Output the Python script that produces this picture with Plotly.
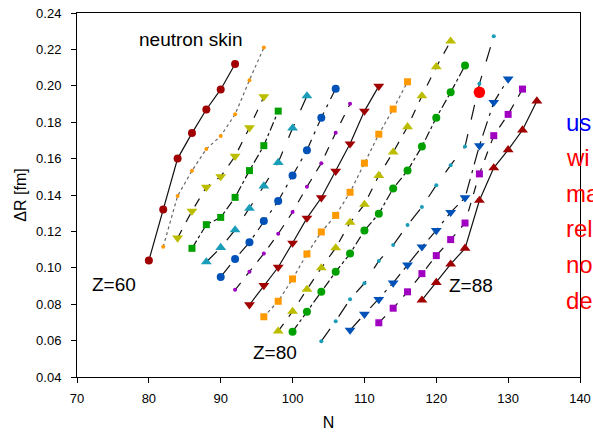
import plotly.graph_objects as go

# ---------------- data ----------------
Z60_N = [80, 82, 84, 86, 88, 90, 92]
Z60_dR = [0.104, 0.132, 0.160, 0.174, 0.187, 0.198, 0.212]

Z62_N = [82, 84, 86, 88, 90, 92, 94, 96]
Z62_dR = [0.1116, 0.1395, 0.1533, 0.1653, 0.1724, 0.1843, 0.2031, 0.2210]

Z64_N = [84, 86, 88, 90, 92, 94, 96]
Z64_dR = [0.1164, 0.1312, 0.1443, 0.1501, 0.1613, 0.1770, 0.1940]

Z66_N = [86, 88, 90, 92, 94, 96, 98]
Z66_dR = [0.1107, 0.1237, 0.1277, 0.1387, 0.1534, 0.1671, 0.1861]

Z68_N = [88, 90, 92, 94, 96, 98, 100, 102]
Z68_dR = [0.1032, 0.1111, 0.1208, 0.1326, 0.1449, 0.1578, 0.1767, 0.1944]

Z70_N = [90, 92, 94, 96, 98, 100, 102, 104, 106]
Z70_dR = [0.0950, 0.1049, 0.1140, 0.1257, 0.1367, 0.1507, 0.1646, 0.1825, 0.1984]

Z72_N = [92, 94, 96, 98, 100, 102, 104, 106, 108]
Z72_dR = [0.0879, 0.0978, 0.1078, 0.1187, 0.1306, 0.1445, 0.1575, 0.1742, 0.1901]

Z74_N = [94, 96, 98, 100, 102, 104, 106, 108, 110, 112]
Z74_dR = [0.0797, 0.0903, 0.1003, 0.1136, 0.1273, 0.1385, 0.1531, 0.1681, 0.1861, 0.1998]

Z76_N = [96, 98, 100, 102, 104, 106, 108, 110, 112, 114, 116]
Z76_dR = [0.0731, 0.0816, 0.0939, 0.1076, 0.1197, 0.1288, 0.1415, 0.1575, 0.1734, 0.1872, 0.2022]

Z78_N = [98, 100, 102, 104, 106, 108, 110, 112, 114, 116, 118, 120, 122]
Z78_dR = [0.0652, 0.0760, 0.0881, 0.0999, 0.1109, 0.1249, 0.1348, 0.1507, 0.1635, 0.1775, 0.1944, 0.2104, 0.2245]

Z80_N = [100, 102, 104, 106, 108, 110, 112, 114, 116, 118, 120, 122, 124]
Z80_dR = [0.0649, 0.0758, 0.0868, 0.0978, 0.1078, 0.1205, 0.1297, 0.1436, 0.1534, 0.1666, 0.1825, 0.1964, 0.2112]

Z82_N = [104, 106, 108, 110, 112, 114, 116, 118, 120, 122, 124, 126, 128]
Z82_dR = [0.0597, 0.0707, 0.0827, 0.0915, 0.1038, 0.1125, 0.1235, 0.1334, 0.1454, 0.1564, 0.1666, 0.2011, 0.2272]

Z84_N = [108, 110, 112, 114, 116, 118, 120, 122, 124, 126, 128, 130]
Z84_dR = [0.0658, 0.0745, 0.0826, 0.0917, 0.1016, 0.1115, 0.1205, 0.1305, 0.1385, 0.1671, 0.1909, 0.2038]

Z86_N = [112, 114, 116, 118, 120, 122, 124, 126, 128, 130, 132]
Z86_dR = [0.0698, 0.0778, 0.0868, 0.0968, 0.1067, 0.1155, 0.1246, 0.1516, 0.1726, 0.1843, 0.1982]

Z88_N = [118, 120, 122, 124, 126, 128, 130, 132, 134]
Z88_dR = [0.0822, 0.0919, 0.1020, 0.1107, 0.1370, 0.1549, 0.1648, 0.1757, 0.1916]

HIGHLIGHT_N = [126]
HIGHLIGHT_dR = [0.1964]

chains = [
    (60, Z60_N, Z60_dR), (62, Z62_N, Z62_dR), (64, Z64_N, Z64_dR),
    (66, Z66_N, Z66_dR), (68, Z68_N, Z68_dR), (70, Z70_N, Z70_dR),
    (72, Z72_N, Z72_dR), (74, Z74_N, Z74_dR), (76, Z76_N, Z76_dR),
    (78, Z78_N, Z78_dR), (80, Z80_N, Z80_dR), (82, Z82_N, Z82_dR),
    (84, Z84_N, Z84_dR), (86, Z86_N, Z86_dR), (88, Z88_N, Z88_dR),
]

chain_labels = ["Z=60", "Z=80", "Z=88"]
side_texts = ["us", "wi", "ma", "rel", "no", "de"]

# ---------------- styles ----------------
colors = ["#A00000", "#FF9900", "#BDBD00", "#00A000", "#1A9DB8", "#0052B8", "#A000C0"]
dashes = ["solid", "dot", "dash", "dashdot", "longdash", "longdashdot", "dash"]
line_colors = ["#111111", "#666666", "#111111", "#111111", "#111111", "#111111", "#111111"]
markers = [("circle", 8), ("circle", 4), ("triangle-down", 9.5), ("square", 7), ("triangle-up", 9.5)]

FONT = "Arial, 'Liberation Sans', sans-serif"

fig = go.Figure()
for i, (z, n, dr) in enumerate(chains):
    sym, sz = markers[i % 5]
    fig.add_trace(go.Scatter(
        x=n, y=dr, mode="lines+markers", name=f"Z={z}",
        line=dict(color=line_colors[i % 7], width=1.2, dash=dashes[i % 7]),
        marker=dict(symbol=sym, size=sz, color=colors[i % 7], line=dict(width=0)),
        cliponaxis=False,
    ))

fig.add_trace(go.Scatter(
    x=HIGHLIGHT_N, y=HIGHLIGHT_dR, mode="markers",
    marker=dict(symbol="circle", size=11.5, color="#FF0000", line=dict(width=0)),
    cliponaxis=False,
))

annotations = [
    dict(x=85.9, y=0.2253, text="neutron skin"),
    dict(x=75.1, y=0.0908, text=chain_labels[0]),
    dict(x=97.5, y=0.0535, text=chain_labels[1]),
    dict(x=124.8, y=0.0902, text=chain_labels[2]),
]
for a in annotations:
    fig.add_annotation(x=a["x"], y=a["y"], text=a["text"], showarrow=False,
                       xref="x", yref="y", xanchor="center", yanchor="middle",
                       font=dict(family=FONT, size=19, color="black"))

side_y_px = [122, 158, 194, 229, 265, 301]
for k, (t, py) in enumerate(zip(side_texts, side_y_px)):
    fig.add_annotation(x=137.75, y=0.24 - (py - 12.7) / 1825.0, text=t, showarrow=False,
                       xref="x", yref="y", xanchor="left", yanchor="middle",
                       font=dict(family=FONT, size=24, color="#0000FF" if k == 0 else "#FF0000"))

fig.update_layout(
    width=593, height=433,
    margin=dict(l=77, r=13, t=13, b=56, autoexpand=False),
    paper_bgcolor="white", plot_bgcolor="white",
    showlegend=False,
    font=dict(family=FONT, color="black"),
    xaxis=dict(
        range=[70, 140], dtick=10, tick0=70, automargin=False,
        showgrid=False, zeroline=False,
        showline=True, linecolor="black", linewidth=1, mirror=True,
        ticks="outside", ticklen=5, tickwidth=1, tickcolor="black",
        tickfont=dict(family=FONT, size=13),
        ticklabelstandoff=4,
        title=dict(text="N", font=dict(family=FONT, size=16), standoff=12),
    ),
    yaxis=dict(
        range=[0.04, 0.24], dtick=0.02, tick0=0.04, tickformat=".2f", automargin=False,
        showgrid=False, zeroline=False,
        showline=True, linecolor="black", linewidth=1, mirror=True,
        ticks="outside", ticklen=5, tickwidth=1, tickcolor="black",
        tickfont=dict(family=FONT, size=13),
        ticklabelstandoff=7,
        title=dict(text="ΔR [fm]", font=dict(family=FONT, size=16), standoff=5),
    ),
)

fig.write_html(
    "out.html",
    config={"displayModeBar": False},
    post_script="document.body.style.margin='0';document.body.style.padding='0';document.body.style.overflow='hidden';",
)
